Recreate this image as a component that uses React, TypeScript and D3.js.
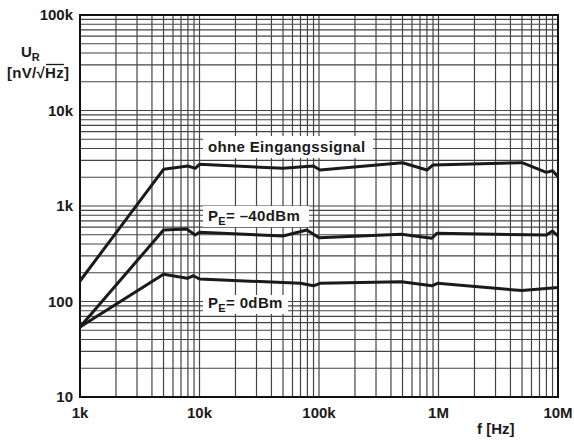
import React, { useLayoutEffect } from "react";
import * as d3 from "d3";

// frequency [Hz] and noise voltage U_R [nV/sqrt(Hz)]
const freqNoSignal = [1e3, 5e3, 8e3, 9.2e3, 1e4, 5e4, 9e4, 1.02e5, 5e5, 8e5, 9e5, 5e6, 8e6, 9e6, 1e7];
const uNoSignal = [164, 2420, 2620, 2480, 2730, 2480, 2620, 2380, 2840, 2380, 2690, 2840, 2250, 2340, 2030];

const freqMinus40 = [1e3, 5e3, 7.8e3, 9.2e3, 1e4, 5e4, 7.9e4, 1e5, 4.9e5, 8.8e5, 9.7e5, 8e6, 9e6, 1e7];
const uMinus40 = [54, 561, 574, 497, 531, 485, 561, 466, 505, 459, 518, 497, 547, 485];

const freqZero = [1e3, 5e3, 7.9e3, 8.9e3, 1e4, 7e4, 9e4, 1.02e5, 4.9e5, 8.8e5, 9.8e5, 5e6, 1e7];
const uZero = [54, 193, 175, 186, 172, 155, 146, 155, 161, 146, 155, 130, 140];

const xTickValues = [1e3, 1e4, 1e5, 1e6, 1e7];
const xTickLabels = ["1k", "10k", "100k", "1M", "10M"];
const yTickValues = [10, 100, 1e3, 1e4, 1e5];
const yTickLabels = ["10", "100", "1k", "10k", "100k"];

const width = 574;
const height = 441;
const left = 80;
const right = 558;
const top = 15;
const bottom = 397;
const font = "'Liberation Sans', Arial, Helvetica, sans-serif";

export default function App() {
  useLayoutEffect(() => {
    document.body.style.margin = "0";
  }, []);

  const x = d3.scaleLog().domain([1e3, 1e7]).range([left, right]);
  const y = d3.scaleLog().domain([10, 1e5]).range([bottom, top]);

  const line = d3
    .line<[number, number]>()
    .x((d) => x(d[0]))
    .y((d) => y(d[1]));

  const series = [
    d3.zip(freqNoSignal, uNoSignal),
    d3.zip(freqMinus40, uMinus40),
    d3.zip(freqZero, uZero),
  ] as [number, number][][];

  const xGrid = x.ticks();
  const yGrid = y.ticks();

  return (
    <svg width={width} height={height} style={{ display: "block", background: "#fff" }} fontFamily={font}>
      {/* grid */}
      <g stroke="#444" strokeWidth={1.2}>
        {xGrid.map((f) => (
          <line key={"x" + f} x1={x(f)} x2={x(f)} y1={top} y2={bottom} />
        ))}
        {yGrid.map((v) => (
          <line key={"y" + v} x1={left} x2={right} y1={y(v)} y2={y(v)} />
        ))}
      </g>
      <rect x={left} y={top} width={right - left} height={bottom - top} fill="none" stroke="#111" strokeWidth={2} />

      {/* label boxes */}
      <g fill="#fff">
        <rect x={203} y={136} width={170} height={22} />
        <rect x={203} y={206} width={106} height={21} />
        <rect x={203} y={295} width={85} height={19} />
      </g>

      {/* curves */}
      <g fill="none" stroke="#1a1a1a" strokeWidth={3} strokeLinejoin="round">
        {series.map((s, i) => (
          <path key={i} d={line(s) || ""} />
        ))}
      </g>

      {/* annotations */}
      <g fontWeight="bold" fontSize={15} fill="#1a1a1a" letterSpacing={0.35}>
        <text x={208} y={152}>ohne Eingangssignal</text>
        <text x={208} y={221}>
          P<tspan fontSize={11} dy={4}>E</tspan>
          <tspan dy={-4}>= –40dBm</tspan>
        </text>
        <text x={208} y={308}>
          P<tspan fontSize={11} dy={4}>E</tspan>
          <tspan dy={-4}>= 0dBm</tspan>
        </text>
      </g>

      {/* axes labels */}
      <g fontWeight="bold" fontSize={15} fill="#1a1a1a">
        {yTickValues.map((v, i) => (
          <text key={v} x={73} y={y(v) + 5} textAnchor="end">
            {yTickLabels[i]}
          </text>
        ))}
        {xTickValues.map((f, i) => (
          <text key={f} x={x(f)} y={418} textAnchor="middle">
            {xTickLabels[i]}
          </text>
        ))}
        <text x={477} y={434}>f [Hz]</text>
        <text x={21} y={57}>
          U<tspan fontSize={11} dy={4}>R</tspan>
        </text>
        <text x={7} y={78} letterSpacing={0.3}>[nV/√Hz]</text>
        <line x1={46} x2={64} y1={64.5} y2={64.5} stroke="#1a1a1a" strokeWidth={1.3} />
      </g>
    </svg>
  );
}
